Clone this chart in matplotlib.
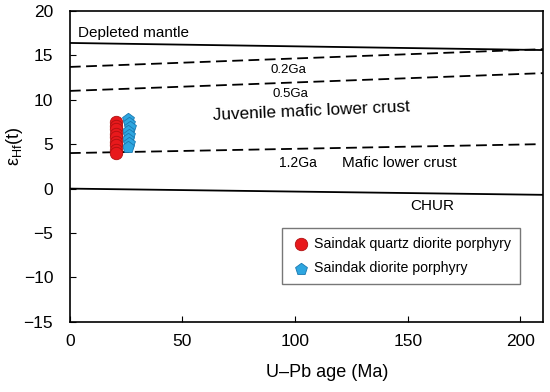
import matplotlib
matplotlib.use('Agg')
import matplotlib.pyplot as plt
import numpy as np

plt.rcParams['font.family'] = ['Liberation Sans', 'DejaVu Sans']

# evolution lines: (age at ends, eHf at ends)
line_x = [0, 210]
dm_y = [16.4, 15.6]
ga02_y = [13.7, 15.7]
ga05_y = [11.0, 13.0]
ga12_x = [0, 208]
ga12_y = [4.0, 5.0]
chur_y = [0.0, -0.7]

# samples
qdp_age = [20.5, 20.5, 20.3, 20.5, 20.4, 20.6, 20.3, 20.5, 20.4]
qdp_ehf = [7.5, 7.1, 6.7, 6.2, 5.8, 5.3, 4.9, 4.4, 4.0]
dp_age = [25.8, 26.1, 26.5, 25.9, 26.3, 25.7, 26.2, 25.9]
dp_ehf = [7.8, 7.4, 6.9, 6.5, 6.0, 5.6, 5.1, 4.7]

fig = plt.figure(figsize=(5.5, 3.92), dpi=100)
ax = fig.add_axes([0.127, 0.179, 0.86, 0.793])

ax.plot(line_x, dm_y, color='black', lw=1.3)
ax.plot(line_x, ga02_y, color='black', lw=1.3, ls=(0, (6, 3)))
ax.plot(line_x, ga05_y, color='black', lw=1.3, ls=(0, (6, 3)))
ax.plot(ga12_x, ga12_y, color='black', lw=1.3, ls=(0, (6, 3)))
ax.plot(line_x, chur_y, color='black', lw=1.3)

ax.scatter(qdp_age, qdp_ehf, s=80, marker='o', facecolor='#e8191c', edgecolor='#b01010',
           lw=0.6, zorder=3, label='Saindak quartz diorite porphyry')
ax.scatter(dp_age, dp_ehf, s=80, marker='p', facecolor='#2ea6e0', edgecolor='#1a78b0',
           lw=0.6, zorder=2, label='Saindak diorite porphyry')

ax.text(3.5, 17.5, 'Depleted mantle', fontsize=11, va='center')
ax.text(89, 13.4, '0.2Ga', fontsize=9.5, va='center')
ax.text(90, 10.6, '0.5Ga', fontsize=9.5, va='center')
ax.text(63.5, 8.2, 'Juvenile mafic lower crust', fontsize=12.3, va='center',
        rotation=2.5, rotation_mode='anchor')
ax.text(93, 2.9, '1.2Ga', fontsize=10, va='center')
ax.text(121, 2.9, 'Mafic lower crust', fontsize=11, va='center')
ax.text(151, -2.0, 'CHUR', fontsize=11, va='center')

ax.set_xlim(0, 210)
ax.set_ylim(-15, 20)
ax.set_xticks([0, 50, 100, 150, 200])
ax.set_yticks([-15, -10, -5, 0, 5, 10, 15, 20])
ax.tick_params(direction='in', labelsize=12.5, length=4)
ax.tick_params(axis='y', pad=12)
ax.tick_params(axis='x', pad=9)
for s in ax.spines.values():
    s.set_linewidth(1.2)

ax.set_xlabel('U\u2013Pb age (Ma)', fontsize=13)
ax.xaxis.set_label_coords(0.545, -0.135)
ax.set_ylabel(r'$\mathregular{\varepsilon_{Hf}(t)}$', fontsize=13)
ax.yaxis.set_label_coords(-0.095, 0.565)

leg = ax.legend(loc='lower right', bbox_to_anchor=(0.951, 0.122), fontsize=10.2,
                frameon=True, fancybox=False, edgecolor='#555555', handletextpad=0.2,
                handlelength=1.5, borderpad=0.6, labelspacing=0.75, borderaxespad=0)
leg.get_frame().set_linewidth(1.0)

fig.savefig('out.png', dpi=100)
